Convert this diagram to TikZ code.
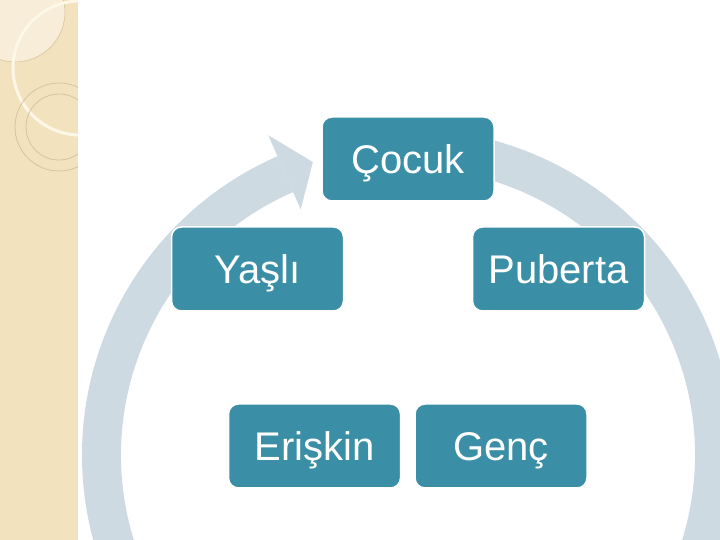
\documentclass[tikz,border=0pt]{standalone}
\usepackage{fontspec}
\setmainfont{Liberation Sans}
\usetikzlibrary{calc}
\definecolor{boxteal}{RGB}{58,143,166}
\definecolor{ringgray}{RGB}{205,218,225}
\definecolor{stripbeige}{RGB}{243,226,190}
\definecolor{striplight}{RGB}{247,237,216}
\definecolor{striparc}{RGB}{252,247,230}
\definecolor{stripline}{RGB}{216,196,156}
\begin{document}
\begin{tikzpicture}[x=1pt,y=1pt,
  stage/.style={rectangle, rounded corners=10pt, fill=boxteal, draw=white,
    line width=1.5pt, minimum width=172pt, minimum height=84pt, text=white,
    font=\fontsize{40}{48}\selectfont, text height=28.6pt, text depth=0pt,
    inner sep=0pt},
  ringpart/.style={fill=ringgray}]
\useasboundingbox (0,0) rectangle (720,540);
\clip (0,0) rectangle (720,540);
\fill[white] (0,0) rectangle (720,540);
% decorative strip
\begin{scope}
  \clip (0,0) rectangle (78,540);
  \fill[stripbeige] (0,0) rectangle (78,540);
  \filldraw[fill=striplight, draw=stripline, line width=0.6pt] (15,528) circle[radius=50];
  \draw[striparc, line width=3pt] (80,472) circle[radius=67];
  \draw[stripline, line width=0.8pt] (59,413) circle[radius=44];
  \draw[stripline, line width=0.8pt] (59,413) circle[radius=33];
\end{scope}
% circular arrow
\coordinate (rc) at (408,85);
\fill[ringpart] ($(rc)+(95:326)$) arc[start angle=95, end angle=-246.4, radius=326]
  -- ($(rc)+(113.6:287)$) arc[start angle=-246.4, end angle=95, radius=287] -- cycle;
\fill[ringpart] ($(rc)+(113.6:349)$) -- ($(rc)+(108:308)$) -- ($(rc)+(113.6:268)$) -- cycle;
% stages
\node[stage] (cocuk) at (408,381) {Çocuk};
\node[stage] (yasli) at (257.5,271) {Yaşlı};
\node[stage] (puberta) at (558.5,271) {Puberta};
\node[stage] (eriskin) at (314.5,94) {Erişkin};
\node[stage] (genc) at (501,94) {Genç};
\end{tikzpicture}
\end{document}
